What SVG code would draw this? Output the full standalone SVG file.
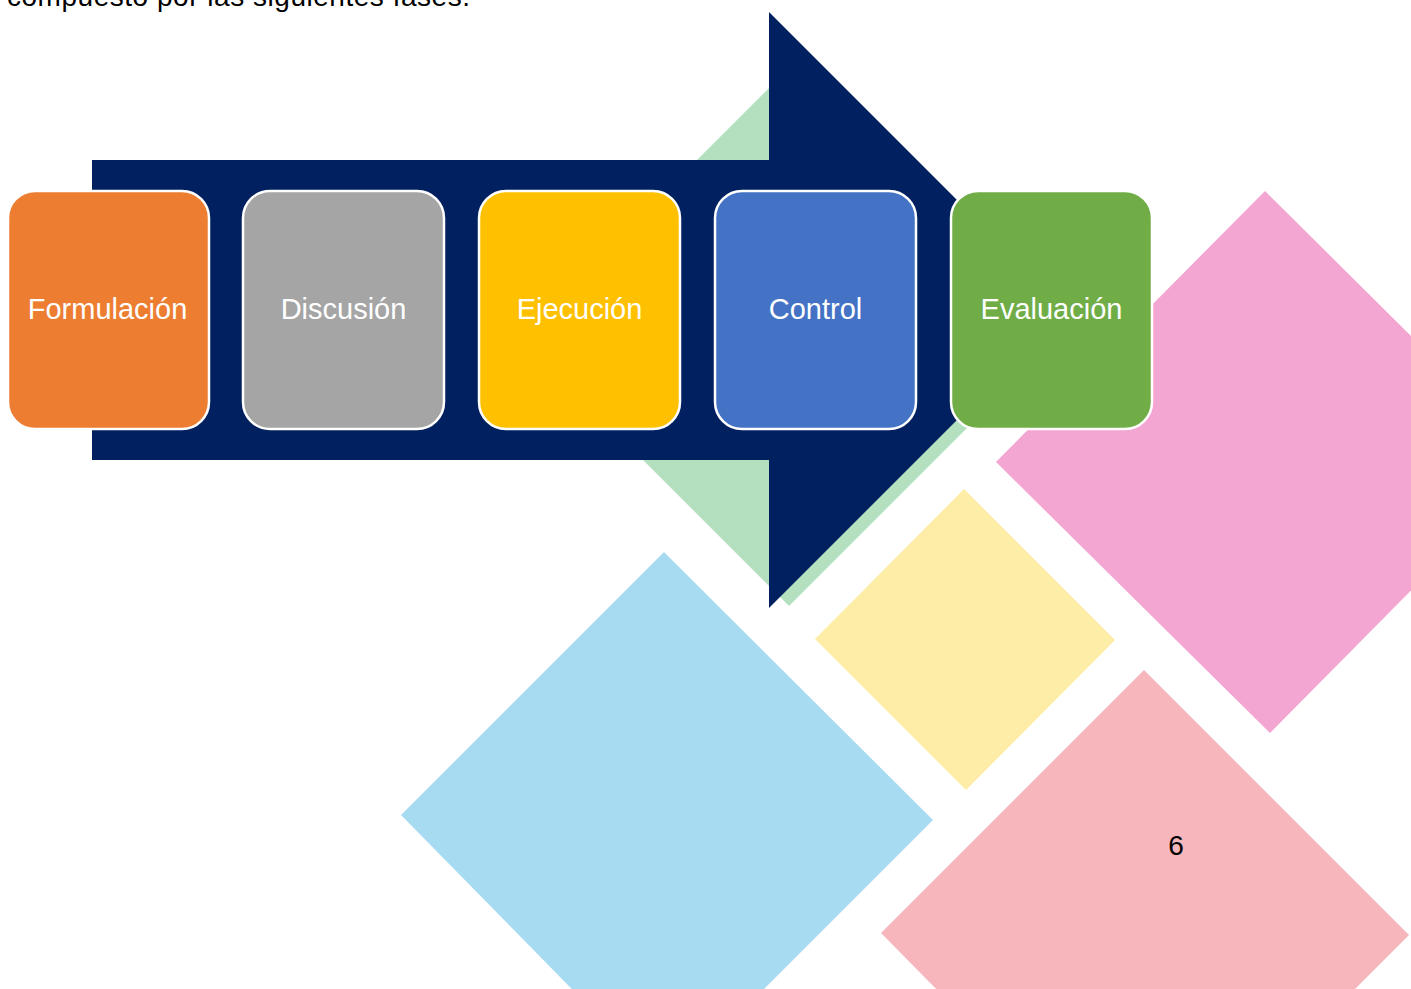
<svg xmlns="http://www.w3.org/2000/svg" width="1411" height="989" viewBox="0 0 1411 989">
<style>
.lbl{font-family:"Liberation Sans",Arial,sans-serif;font-size:29px;fill:#ffffff;text-anchor:middle}
.box{stroke:#ffffff;stroke-width:2.5}
.txt{font-family:"Liberation Sans",Arial,sans-serif;font-size:28px;fill:#000000}
</style>
<rect width="1411" height="989" fill="#ffffff"/>
<g id="background">
<polygon points="1265,191 1538,462 1270,733 996,462" fill="#F4A6D2"/>
<polygon points="964,489 1115,640 966,790 815,639" fill="#FEEDA6"/>
<polygon points="664,552 933,820 667,1086 401,815" fill="#A7DBF2"/>
<polygon points="1144,670 1409,935 1144,1200 881,933" fill="#F6B6BC"/>
<polygon points="789,68 1058,337 789,606 520,337" fill="#B4E0C0"/>
</g>
<g id="arrow">
<polygon points="92,160 769,160 769,12 1067,310 769,608 769,460 92,460" fill="#00205F"/>
</g>
<text class="txt" x="7" y="6" textLength="463">compuesto por las siguientes fases.</text>
<g id="connectors"></g>
<g id="n1"><rect class="box" x="8" y="191" width="201" height="238" rx="27" fill="#ED7D31"/><text class="lbl" x="107.5" y="319">Formulación</text></g>
<g id="n2"><rect class="box" x="243" y="191" width="201" height="238" rx="27" fill="#A5A5A5"/><text class="lbl" x="343.5" y="319">Discusión</text></g>
<g id="n3"><rect class="box" x="479" y="191" width="201" height="238" rx="27" fill="#FFC000"/><text class="lbl" x="579.5" y="319">Ejecución</text></g>
<g id="n4"><rect class="box" x="715" y="191" width="201" height="238" rx="27" fill="#4472C4"/><text class="lbl" x="815.5" y="319">Control</text></g>
<g id="n5"><rect class="box" x="951" y="191" width="201" height="238" rx="27" fill="#70AD47"/><text class="lbl" x="1051.5" y="319">Evaluación</text></g>
<text class="txt" x="1176" y="855" text-anchor="middle">6</text>
</svg>
